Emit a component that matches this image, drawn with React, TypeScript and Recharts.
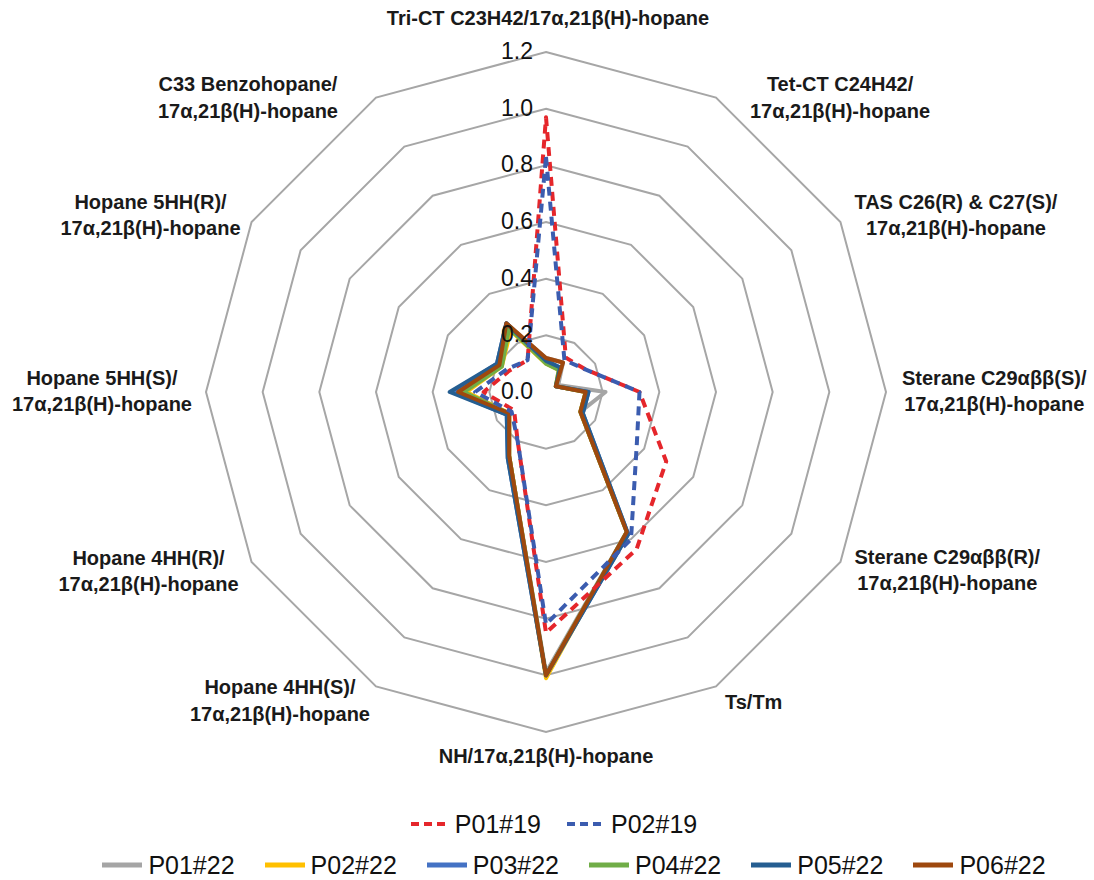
import { RadarChart, Radar, PolarGrid, PolarAngleAxis, PolarRadiusAxis, Legend } from "recharts";

// axes, clockwise from the top
const CATEGORIES = [
  "Tri-CT C23H42/17α,21β(H)-hopane",
  "Tet-CT C24H42/\n17α,21β(H)-hopane",
  "TAS C26(R) & C27(S)/\n17α,21β(H)-hopane",
  "Sterane C29αββ(S)/\n17α,21β(H)-hopane",
  "Sterane C29αββ(R)/\n17α,21β(H)-hopane",
  "Ts/Tm",
  "NH/17α,21β(H)-hopane",
  "Hopane 4HH(S)/\n17α,21β(H)-hopane",
  "Hopane 4HH(R)/\n17α,21β(H)-hopane",
  "Hopane 5HH(S)/\n17α,21β(H)-hopane",
  "Hopane 5HH(R)/\n17α,21β(H)-hopane",
  "C33 Benzohopane/\n17α,21β(H)-hopane",
];

const RADIUS_TICKS = [0, 0.2, 0.4, 0.6, 0.8, 1.0, 1.2];

const P01_19 = [0.97, 0.14, 0.16, 0.33, 0.49, 0.64, 0.85, 0.2, 0.13, 0.22, 0.15, 0.13];
const P02_19 = [0.83, 0.13, 0.16, 0.33, 0.37, 0.6, 0.82, 0.2, 0.14, 0.25, 0.16, 0.13];
const P01_22 = [0.12, 0.12, 0.05, 0.21, 0.14, 0.57, 0.99, 0.26, 0.15, 0.3, 0.19, 0.27];
const P02_22 = [0.1, 0.09, 0.04, 0.14, 0.14, 0.57, 1.01, 0.26, 0.15, 0.28, 0.18, 0.25];
const P03_22 = [0.11, 0.1, 0.04, 0.15, 0.15, 0.58, 1.0, 0.27, 0.16, 0.33, 0.2, 0.28];
const P04_22 = [0.1, 0.09, 0.04, 0.14, 0.14, 0.57, 1.0, 0.26, 0.15, 0.29, 0.18, 0.26];
const P05_22 = [0.11, 0.1, 0.04, 0.15, 0.15, 0.58, 1.0, 0.27, 0.16, 0.34, 0.2, 0.28];
const P06_22 = [0.12, 0.12, 0.04, 0.14, 0.14, 0.57, 1.0, 0.26, 0.15, 0.31, 0.19, 0.28];

const SOLID_SERIES = [
  { name: "P01#22", values: P01_22, color: "#a5a5a5" },
  { name: "P02#22", values: P02_22, color: "#ffc000" },
  { name: "P03#22", values: P03_22, color: "#4472c4" },
  { name: "P04#22", values: P04_22, color: "#70ad47" },
  { name: "P05#22", values: P05_22, color: "#255e91" },
  { name: "P06#22", values: P06_22, color: "#9e480e" },
];
const DASHED_SERIES = [
  { name: "P01#19", values: P01_19, color: "#e5262b" },
  { name: "P02#19", values: P02_19, color: "#3b5caf" },
];

const data = CATEGORIES.map((category, i) => {
  const row: Record<string, any> = { category };
  [...DASHED_SERIES, ...SOLID_SERIES].forEach((s) => (row[s.name] = s.values[i]));
  return row;
});

const CX = 546;
const CY = 392;
const R = 340;
const FONT = '"Liberation Sans", Arial, sans-serif';
const LABEL_SIZE = 20;
const LINE_H = 26.5;

// where each category label sits relative to its outer vertex
const LABEL_LAYOUT = [
  { align: "center", dx: 2, dy: -34 },
  { align: "left", dx: 34, dy: 0 },
  { align: "left", dx: 14, dy: -7 },
  { align: "left", dx: 16, dy: -1 },
  { align: "left", dx: 14, dy: 8 },
  { align: "left", dx: 9, dy: 16 },
  { align: "center", dx: 0, dy: 24 },
  { align: "right", dx: -6, dy: 14 },
  { align: "right", dx: -13, dy: 9 },
  { align: "right", dx: -14, dy: -1 },
  { align: "right", dx: -11, dy: -7 },
  { align: "right", dx: -38, dy: 0 },
];

let measureCtx: CanvasRenderingContext2D | null = null;
const textWidth = (s: string) => {
  if (!measureCtx) measureCtx = document.createElement("canvas").getContext("2d");
  if (!measureCtx) return s.length * LABEL_SIZE * 0.55;
  measureCtx.font = `bold ${LABEL_SIZE}px "Liberation Sans"`;
  return measureCtx.measureText(s).width;
};

const AngleTick = (props: any) => {
  const value = String(props.payload.value);
  const i = CATEGORIES.indexOf(value);
  const a = ((90 - (i * 360) / CATEGORIES.length) * Math.PI) / 180;
  const vx = CX + R * Math.cos(a);
  const vy = CY - R * Math.sin(a);
  const lay = LABEL_LAYOUT[i];
  const lines = value.split("\n");
  const w = Math.max(...lines.map(textWidth));
  let x = vx + lay.dx;
  if (lay.align === "left") x += w / 2;
  if (lay.align === "right") x -= w / 2;
  const y0 = vy + lay.dy - ((lines.length - 1) * LINE_H) / 2;
  return (
    <text
      textAnchor="middle"
      dominantBaseline="central"
      fontFamily={FONT}
      fontWeight="bold"
      fontSize={LABEL_SIZE}
      fill="#1a1a1a"
    >
      {lines.map((l, k) => (
        <tspan key={k} x={x} y={y0 + k * LINE_H}>
          {l}
        </tspan>
      ))}
    </text>
  );
};

const RadiusTick = (props: any) => {
  const { x, y, payload } = props;
  return (
    <text
      x={x - 13}
      y={y - 1}
      textAnchor="end"
      dominantBaseline="central"
      fontFamily={FONT}
      fontSize={23}
      fill="#111"
    >
      {Number(payload.value).toFixed(1)}
    </text>
  );
};

const Swatch = ({ color, dashed }: { color: string; dashed?: boolean }) => (
  <svg width={40} height={10} style={{ marginRight: 6 }}>
    <line
      x1={dashed ? 2 : 0}
      y1={5}
      x2={dashed ? 38 : 40}
      y2={5}
      stroke={color}
      strokeWidth={dashed ? 4 : 5}
      strokeDasharray={dashed ? "8 5" : undefined}
    />
  </svg>
);

const LegendRows = () => (
  <div style={{ fontFamily: FONT, fontSize: 25, color: "#111" }}>
    <div style={{ display: "flex", justifyContent: "center", gap: 24, paddingLeft: 12, height: 40, alignItems: "center" }}>
      {DASHED_SERIES.map((s) => (
        <div key={s.name} style={{ display: "flex", alignItems: "center" }}>
          <Swatch color={s.color} dashed />
          <span>{s.name}</span>
        </div>
      ))}
    </div>
    <div style={{ display: "flex", justifyContent: "center", gap: 30, paddingLeft: 54, height: 42, alignItems: "center" }}>
      {SOLID_SERIES.map((s) => (
        <div key={s.name} style={{ display: "flex", alignItems: "center" }}>
          <Swatch color={s.color} />
          <span>{s.name}</span>
        </div>
      ))}
    </div>
  </div>
);

export default function App() {
  return (
    <div style={{ width: 1094, height: 880, background: "#fff" }}>
      <style>{"body{margin:0;background:#fff}"}</style>
      <RadarChart
        width={1094}
        height={880}
        data={data}
        cx={CX}
        cy={CY}
        outerRadius={R}
        margin={{ top: 0, right: 0, bottom: 0, left: 0 }}
      >
        <PolarGrid gridType="polygon" radialLines={false} stroke="#a6a6a6" strokeWidth={2} />
        <PolarAngleAxis dataKey="category" tick={AngleTick} tickLine={false} axisLine={false} />
        <PolarRadiusAxis
          type="number"
          angle={90}
          domain={[RADIUS_TICKS[0], RADIUS_TICKS[RADIUS_TICKS.length - 1]]}
          ticks={RADIUS_TICKS as any}
          tickCount={RADIUS_TICKS.length}
          allowDecimals
          tick={RadiusTick}
          tickLine={false}
          axisLine={false}
        />
        {SOLID_SERIES.map((s) => (
          <Radar
            key={s.name}
            name={s.name}
            dataKey={s.name}
            stroke={s.color}
            strokeWidth={4}
            strokeLinejoin="round"
            fill="none"
            fillOpacity={0}
            dot={false}
            isAnimationActive={false}
          />
        ))}
        {DASHED_SERIES.map((s) => (
          <Radar
            key={s.name}
            name={s.name}
            dataKey={s.name}
            stroke={s.color}
            strokeWidth={4}
            strokeDasharray="9 6"
            strokeLinejoin="round"
            fill="none"
            fillOpacity={0}
            dot={false}
            isAnimationActive={false}
          />
        ))}
        <Legend
          content={() => <LegendRows />}
          wrapperStyle={{ position: "absolute", top: 804, left: 0, width: 1094, bottom: "auto" }}
        />
      </RadarChart>
    </div>
  );
}
